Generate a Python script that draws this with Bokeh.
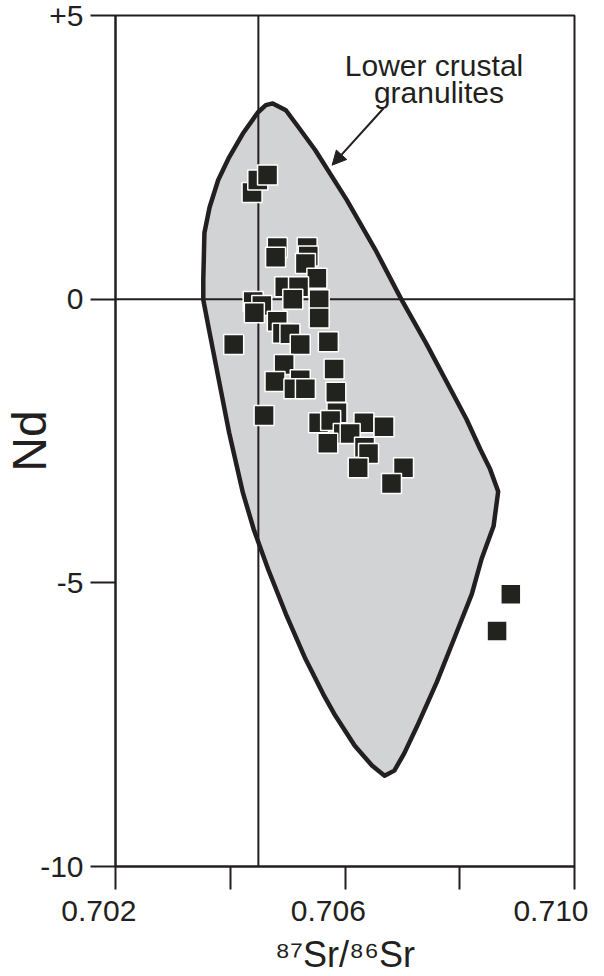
import math
from bokeh.plotting import figure
from bokeh.models import Range1d, FixedTicker, Label, Arrow, NormalHead, Title
from bokeh.embed import file_html
from bokeh.resources import INLINE

# ---- data ----
sr_ratio = [0.70438, 0.70448, 0.70465, 0.70482, 0.70479, 0.70534, 0.70536, 0.70531,
            0.70551, 0.70495, 0.70519, 0.70509, 0.70555, 0.70440, 0.70455, 0.70442,
            0.70555, 0.70482, 0.70491, 0.70504, 0.70406, 0.70522, 0.70571, 0.70494,
            0.70581, 0.70478, 0.70522, 0.70511, 0.70531, 0.70584, 0.70459, 0.70586,
            0.70554, 0.70575, 0.70633, 0.70668, 0.70597, 0.70609, 0.70570, 0.70634,
            0.70641, 0.70623, 0.70702, 0.70681, 0.70889, 0.70865]
eps_nd = [1.88, 2.10, 2.19, 0.91, 0.74, 0.91, 0.76, 0.63,
          0.37, 0.22, 0.22, 0.00, -0.01, -0.04, -0.11, -0.24,
          -0.33, -0.39, -0.60, -0.61, -0.80, -0.80, -0.75, -1.15,
          -1.23, -1.45, -1.42, -1.58, -1.58, -1.64, -2.05, -2.00,
          -2.18, -2.14, -2.18, -2.25, -2.37, -2.37, -2.54, -2.61,
          -2.72, -2.97, -2.97, -3.25, -5.20, -5.85]

# Lower crustal granulite field outline
field_x = [0.70474, 0.70497, 0.70519, 0.70548, 0.70603, 0.70653, 0.70698, 0.70741,
           0.70812, 0.70836, 0.70853, 0.70867, 0.70859, 0.70838, 0.70821, 0.70790,
           0.70760, 0.70726, 0.70703, 0.70686, 0.70669, 0.70647, 0.70617, 0.70583,
           0.70562, 0.70531, 0.70497, 0.70466, 0.70441, 0.70422, 0.70398, 0.70381,
           0.70364, 0.70353, 0.70353, 0.70355, 0.70364, 0.70379, 0.70398, 0.70422,
           0.70448, 0.70462]
field_y = [3.45, 3.33, 3.03, 2.63, 1.75, 0.87, 0.00, -0.77,
           -2.12, -2.65, -3.00, -3.39, -4.00, -4.58, -5.20, -5.99,
           -6.75, -7.52, -8.01, -8.31, -8.40, -8.22, -7.87, -7.34,
           -6.96, -6.34, -5.55, -4.76, -4.06, -3.41, -2.35, -1.47,
           -0.59, -0.01, 0.34, 1.17, 1.62, 2.10, 2.50, 2.92,
           3.29, 3.42]

ref_sr = 0.70449   # vertical reference line
ref_nd = 0.0       # horizontal reference line

x_ticks = [0.702, 0.704, 0.706, 0.708, 0.710]
x_tick_labels = {0.702: "0.702", 0.704: "", 0.706: "0.706", 0.708: "", 0.710: "0.710"}
y_ticks = [-10, -5, 0, 5]
y_tick_labels = {-10: "-10", -5: "-5", 0: "0", 5: "+5"}

INK = "#231f20"
FONT = "Liberation Sans"
PAD = "\u00a0" * 4   # trailing pad: labels sit a little left of their ticks, as in the original

X0, X1, Y0, Y1 = 0.702, 0.710, -10.0, 5.0
FW, FH = 464, 853
BL, BR, BT, BB = 110, 14, 15, 108

p = figure(width=BL + FW + BR, height=BT + FH + BB,
           x_range=Range1d(X0, X1), y_range=Range1d(Y0, Y1),
           output_backend="svg", toolbar_location=None,
           min_border_left=BL, min_border_right=BR, min_border_top=BT, min_border_bottom=BB)
p.grid.visible = False
p.background_fill_color = "white"
p.border_fill_color = "white"
p.outline_line_color = INK
p.outline_line_width = 2

dx = (X1 - X0) / FW   # data per px
dy = (Y1 - Y0) / FH

# field
p.patch(field_x, field_y, fill_color="#d1d3d4", line_color=INK, line_width=4.5, line_join="round")

# reference lines
p.line([ref_sr, ref_sr], [Y0, Y1], line_color=INK, line_width=2)
p.line([X0, X1], [ref_nd, ref_nd], line_color=INK, line_width=2)

# samples
p.scatter(sr_ratio, eps_nd, marker="square", size=20, fill_color="#22221f",
          line_color="white", line_width=1.5)

# x axis
xa = p.xaxis[0]
xa.ticker = FixedTicker(ticks=x_ticks)
xa.major_label_overrides = {t: (s + PAD if s and t < X1 else s) for t, s in x_tick_labels.items()}
xa.major_label_text_font = FONT
xa.major_label_text_font_size = "30px"
xa.major_label_text_color = INK
xa.major_label_standoff = 4
xa.major_tick_out = 23
xa.major_tick_in = 0
xa.minor_tick_line_color = None
xa.major_tick_line_width = 2
xa.major_tick_line_color = INK
xa.axis_line_width = 2
xa.axis_line_color = INK

# x axis title
p.add_layout(Title(text="⁸⁷Sr/⁸⁶Sr", align="center", text_font=FONT, text_font_size="36px",
                   text_font_style="normal", text_color=INK, standoff=4), "below")

# y axis
ya = p.yaxis[0]
ya.ticker = FixedTicker(ticks=y_ticks)
ya.major_label_overrides = y_tick_labels
ya.major_tick_out = 25
ya.major_tick_in = 0
ya.minor_tick_line_color = None
ya.major_tick_line_width = 2
ya.major_tick_line_color = INK
ya.axis_line_width = 2
ya.axis_line_color = INK
ya.major_label_standoff = 7
ya.major_label_text_font = FONT
ya.major_label_text_font_size = "30px"
ya.major_label_text_color = INK
ya.axis_label = "Nd"
ya.axis_label_text_font = FONT
ya.axis_label_text_font_size = "48px"
ya.axis_label_text_font_style = "normal"
ya.axis_label_text_color = INK
ya.axis_label_standoff = -19

# annotation
p.add_layout(Label(x=X0 + 322 * dx, y=Y1 - 50 * dy, text="Lower crustal", text_align="center",
                   text_baseline="alphabetic", text_font=FONT, text_font_size="30px",
                   text_color=INK))
p.add_layout(Label(x=X0 + 327 * dx, y=Y1 - 77.5 * dy, text="granulites", text_align="center",
                   text_baseline="alphabetic", text_font=FONT, text_font_size="30px",
                   text_color=INK))
p.add_layout(Arrow(x_start=X0 + 271 * dx, y_start=Y1 - 93 * dy,
                   x_end=X0 + 219 * dx, y_end=Y1 - 150 * dy,
                   line_color=INK, line_width=2,
                   end=NormalHead(size=14, fill_color=INK, line_color=INK, line_width=1)))

open("out.html", "w").write(file_html(p, INLINE))
